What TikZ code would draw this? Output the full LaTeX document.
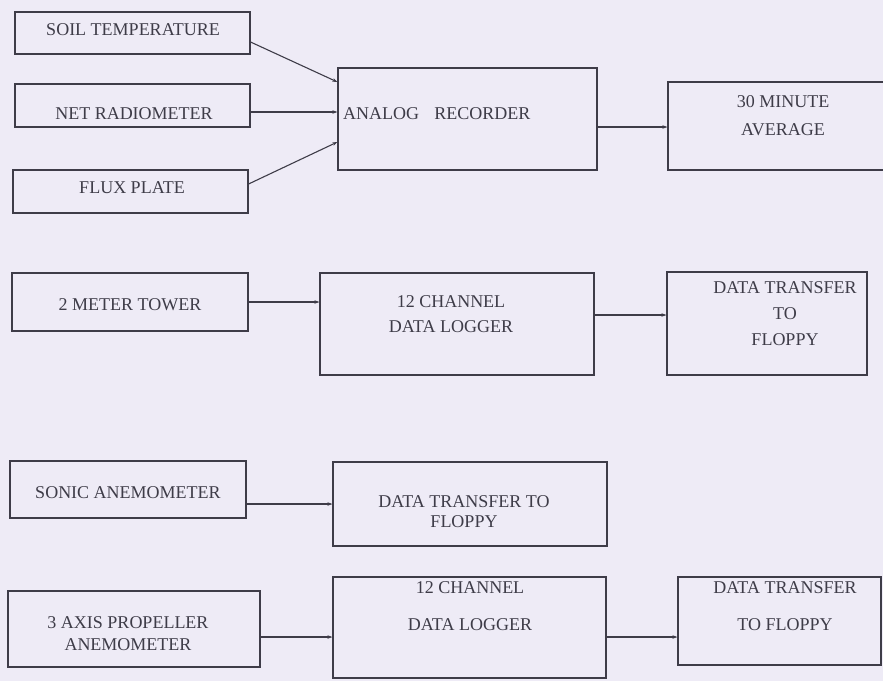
\documentclass[tikz,border=0pt]{standalone}
\usepackage{fontspec}
\setmainfont{Liberation Serif}
\usetikzlibrary{arrows.meta}

\definecolor{paper}{RGB}{238,235,246}
\definecolor{ink}{RGB}{62,60,72}

\begin{document}
\begin{tikzpicture}[x=1pt,y=-1pt,
        box/.style={draw=ink, line width=1.1pt, inner sep=0pt},
        txt/.style={text=ink, font=\fontsize{18}{26}\selectfont, align=center, inner sep=0pt},
        link/.style={draw=ink, line width=1.1pt, -{Stealth[length=5pt,width=3.5pt]}}]
            \clip (0,0) rectangle (883,681);
            \fill[paper] (0,0) rectangle (883,681);

            % sensors into the analog recorder
            \node[box, minimum width=235pt, minimum height=42pt] (soil) at (132.5,33) {};
            \node[txt] (soilT) at (133,30) {SOIL TEMPERATURE};
            \node[box, minimum width=235pt, minimum height=43pt] (net) at (132.5,105.5) {};
            \node[txt] (netT) at (134,114) {NET RADIOMETER};
            \node[box, minimum width=235pt, minimum height=43pt] (flux) at (130.5,191.5) {};
            \node[txt] (fluxT) at (132,188) {FLUX PLATE};
            \node[box, minimum width=259pt, minimum height=102pt] (analog) at (467.5,119) {};
            \node[txt, anchor=west] (analogT) at (343,114) {ANALOG\hspace{0.6em} RECORDER};
            \node[box, minimum width=240pt, minimum height=88pt] (avg) at (788,126) {};
            \node[txt] (avgT) at (783,116) {30 MINUTE\\[2pt]AVERAGE};
            \draw[link] ([yshift=-9pt]soil.east) -- ([yshift=37pt]analog.west);
            \draw[link] ([yshift=-6.5pt]net.east) -- ([yshift=7pt]analog.west);
            \draw[link] ([yshift=7.5pt]flux.east) -- ([yshift=-23pt]analog.west);
            \draw[link] ([yshift=-8pt]analog.east) -- ([yshift=-1pt]avg.west);

            % 2 meter tower
            \node[box, minimum width=236pt, minimum height=58pt] (tower) at (130,302) {};
            \node[txt] (towerT) at (130,305) {2 METER TOWER};
            \node[box, minimum width=274pt, minimum height=102pt] (logA) at (457,324) {};
            \node[txt] (logAT) at (451,314.5) {12 CHANNEL\\[-1pt]DATA LOGGER};
            \node[box, minimum width=200pt, minimum height=103pt] (flopA) at (767,323.5) {};
            \node[txt] (flopAT) at (785,314) {DATA TRANSFER\\TO\\FLOPPY};
            \draw[link] (tower.east) -- ([yshift=22pt]logA.west);
            \draw[link] ([yshift=9pt]logA.east) -- ([yshift=8.5pt]flopA.west);

            % sonic anemometer
            \node[box, minimum width=236pt, minimum height=57pt] (sonic) at (128,489.5) {};
            \node[txt] (sonicT) at (128,493) {SONIC ANEMOMETER};
            \node[box, minimum width=274pt, minimum height=84pt] (flopB) at (470,504) {};
            \node[txt] (flopBT) at (464,512) {DATA TRANSFER TO\\[-6pt]FLOPPY};
            \draw[link] ([yshift=-14.5pt]sonic.east) -- (flopB.west);

            % propeller anemometer
            \node[box, minimum width=252pt, minimum height=76pt] (prop) at (134,629) {};
            \node[txt] (propT) at (128,634) {3 AXIS PROPELLER\\[-4pt]ANEMOMETER};
            \node[box, minimum width=273pt, minimum height=101pt] (logB) at (469.5,627.5) {};
            \node[txt] (logBT) at (470,606.5) {12 CHANNEL\\[11pt]DATA LOGGER};
            \node[box, minimum width=203pt, minimum height=88pt] (flopC) at (779.5,621) {};
            \node[txt] (flopCT) at (785,606.5) {DATA TRANSFER\\[11pt]TO FLOPPY};
            \draw[link] ([yshift=-8pt]prop.east) -- ([yshift=-9.5pt]logB.west);
            \draw[link] ([yshift=-9.5pt]logB.east) -- ([yshift=-16pt]flopC.west);
        \end{tikzpicture}
\end{document}
